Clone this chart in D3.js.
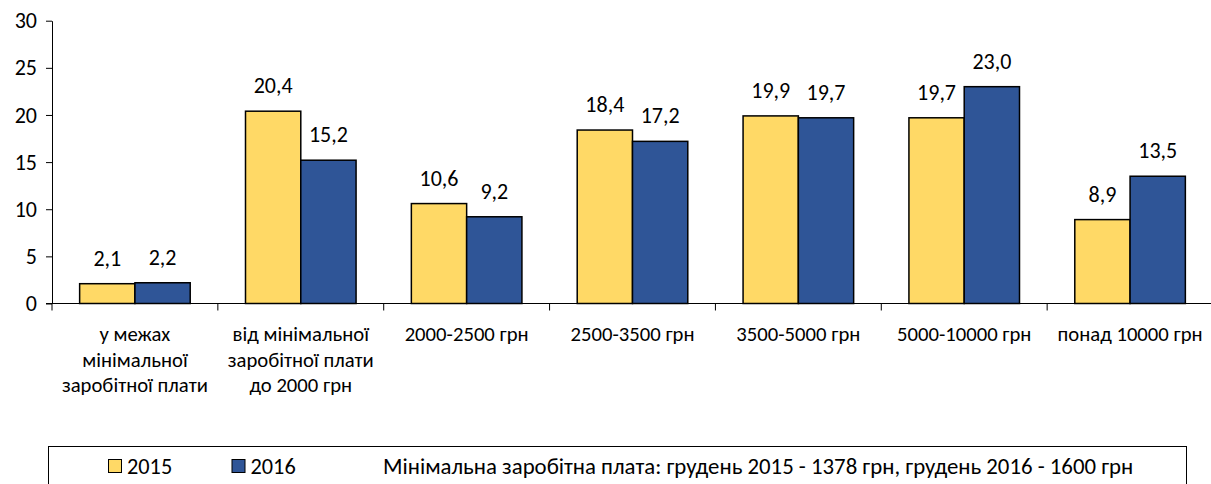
<!DOCTYPE html>
<html>
<head>
<meta charset="utf-8">
<script src="https://cdn.jsdelivr.net/npm/d3@7"></script>
<style>
  body { margin: 0; background: #fff; }
  svg text { font-family: Carlito, Calibri, Lato, sans-serif; fill: #000; }
</style>
</head>
<body>
<div id="chart-holder"></div>
<script>
// data
var categories = [
  ["у межах", "мінімальної", "заробітної плати"],
  ["від мінімальної", "заробітної плати", "до 2000 грн"],
  ["2000-2500 грн"],
  ["2500-3500 грн"],
  ["3500-5000 грн"],
  ["5000-10000 грн"],
  ["понад 10000 грн"]
];
var years = ["2015", "2016"];
var values2015 = [2.1, 20.4, 10.6, 18.4, 19.9, 19.7, 8.9];
var values2016 = [2.2, 15.2, 9.2, 17.2, 19.7, 23.0, 13.5];
var yTicks = [0, 5, 10, 15, 20, 25, 30];
var note = "Мінімальна заробітна плата: грудень 2015 - 1378 грн, грудень 2016 - 1600 грн";

var colors = {"2015": "#FFD966", "2016": "#2F5597"};
var fmt = function(v) { return d3.format(".1f")(v).replace(".", ","); };

var svg = d3.select("#chart-holder").append("svg")
  .attr("width", 1211)
  .attr("height", 484);

var x = d3.scaleBand()
  .domain(d3.range(categories.length))
  .range([52, 1213]);

var xInner = d3.scaleBand()
  .domain(years)
  .range([0, x.bandwidth()])
  .paddingInner(0)
  .paddingOuter(0.5);

var y = d3.scaleLinear()
  .domain([0, 30])
  .range([303.5, 20.7]);

// y axis
var yAxis = svg.append("g")
  .attr("transform", "translate(52,0)")
  .call(d3.axisLeft(y).tickValues(yTicks).tickSize(6).tickPadding(9).tickSizeOuter(0));
yAxis.select(".domain").attr("stroke", "#000");
yAxis.selectAll("text").style("font-size", "22px");

var rows = categories.map(function(c, i) {
  return {i: i, label: c, v: {"2015": values2015[i], "2016": values2016[i]}};
});

// bars
var groups = svg.selectAll("g.cat")
  .data(rows)
  .enter()
  .append("g")
  .attr("class", "cat")
  .attr("transform", function(d) { return "translate(" + x(d.i) + ",0)"; });

groups.selectAll("rect")
  .data(function(d) { return years.map(function(yr) { return {yr: yr, v: d.v[yr]}; }); })
  .enter()
  .append("rect")
  .attr("x", function(d) { return xInner(d.yr); })
  .attr("y", function(d) { return y(d.v); })
  .attr("width", xInner.bandwidth())
  .attr("height", function(d) { return y(0) - y(d.v); })
  .style("fill", function(d) { return colors[d.yr]; })
  .style("stroke", "#000")
  .style("stroke-width", 1.5);

groups.selectAll("text.val")
  .data(function(d) { return years.map(function(yr) { return {yr: yr, v: d.v[yr]}; }); })
  .enter()
  .append("text")
  .attr("class", "val")
  .attr("x", function(d) { return xInner(d.yr) + xInner.bandwidth() / 2; })
  .attr("y", function(d) { return y(d.v) - 18; })
  .attr("text-anchor", "middle")
  .style("font-size", "22px")
  .text(function(d) { return fmt(d.v); });

// x axis (drawn after bars so it sits on top)
svg.append("line")
  .attr("x1", 46).attr("x2", 1211)
  .attr("y1", y(0)).attr("y2", y(0))
  .attr("stroke", "#000");

svg.selectAll("line.xtick")
  .data(d3.range(categories.length))
  .enter()
  .append("line")
  .attr("class", "xtick")
  .attr("x1", function(i) { return x(i); })
  .attr("x2", function(i) { return x(i); })
  .attr("y1", y(0))
  .attr("y2", y(0) + 7)
  .attr("stroke", "#000");

groups.append("text")
  .attr("text-anchor", "middle")
  .style("font-size", "20.7px")
  .selectAll("tspan")
  .data(function(d) { return d.label; })
  .enter()
  .append("tspan")
  .attr("x", x.bandwidth() / 2)
  .attr("y", function(d, k) { return 341 + k * 25.5; })
  .text(function(d) { return d; });

// legend
var legend = svg.append("g");
legend.append("rect")
  .attr("x", 48.5).attr("y", 446.5)
  .attr("width", 1138).attr("height", 50)
  .style("fill", "none")
  .style("stroke", "#000");

var legendX = {"2015": 108.5, "2016": 232};
years.forEach(function(yr) {
  legend.append("rect")
    .attr("x", legendX[yr]).attr("y", 459.5)
    .attr("width", 13).attr("height", 13)
    .style("fill", colors[yr])
    .style("stroke", "#000");
  legend.append("text")
    .attr("x", legendX[yr] + 18.5).attr("y", 474)
    .style("font-size", "22.3px")
    .text(yr);
});
legend.append("text")
  .attr("x", 383).attr("y", 474)
  .style("font-size", "22.8px")
  .text(note);
</script>
</body>
</html>
